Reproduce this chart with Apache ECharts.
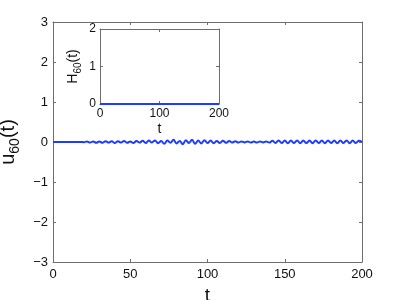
<!DOCTYPE html>
<html>
<head>
<meta charset="utf-8">
<script src="https://cdn.jsdelivr.net/npm/echarts@6/dist/echarts.min.js"></script>
<style>html,body{margin:0;padding:0;background:#fff}#c{width:399px;height:300px}</style>
</head>
<body>
<div id="c"></div>
<script>
// Main series u_60(t)
var tMain = [0,2,4,6,8,10,12,14,16,18,20,22,24,26,28,30,32,34,36,38,40,42,44,46,48,50,52,54,56,58,60,62,64,66,68,70,72,74,76,78,80,82,84,86,88,90,92,94,96,98,100,102,104,106,108,110,112,114,116,118,120,122,124,126,128,130,132,134,136,138,140,142,144,146,148,150,152,154,156,158,160,162,164,166,168,170,172,174,176,178,180,182,184,186,188,190,192,194,196,198,200];
var uMain = [0,0,0,0,0,0,0,0,0,0.003,-0.006,0.01,-0.015,0.015,-0.02,0.015,-0.02,0.02,-0.015,0.02,-0.025,0.02,-0.015,0.025,-0.02,0.015,-0.025,0.025,-0.015,0.03,-0.025,0.035,-0.015,0.04,-0.03,0.025,-0.045,0.035,-0.02,0.055,-0.035,0.025,-0.055,0.045,-0.025,0.055,-0.045,0.035,-0.035,0.045,-0.025,0.035,-0.03,0.025,-0.025,0.03,-0.02,0.025,-0.015,0.02,-0.015,0.015,-0.012,0.015,-0.015,0.012,-0.015,0.015,-0.012,0.015,-0.015,0.03,-0.025,0.04,-0.025,0.035,-0.03,0.035,-0.025,0.04,-0.03,0.035,-0.025,0.035,-0.03,0.04,-0.025,0.035,-0.03,0.04,-0.025,0.035,-0.03,0.035,-0.025,0.04,-0.03,0.035,-0.025,0.03,0];
// Inset series H_60(t)
var tInset = [0,50,100,150,200];
var hInset = [0,0,0,0,0];
// Tick values
var mainXTicks = [0,50,100,150,200];
var mainYTicks = [-3,-2,-1,0,1,2,3];
var insetXTicks = [0,100,200];
var insetYTicks = [0,1,2];

function pairs(a,b){return a.map(function(v,i){return [v,b[i]];});}
var FONT = 'Liberation Sans';
var AX = '#6e6e6e';
function fmt(v){return String(v).replace('-', '\u2212');}

var chart = echarts.init(document.getElementById('c'));
function ax(extra){
  var base = {
    type:'value', axisLine:{show:true,onZero:false,lineStyle:{color:AX,width:1}},
    axisTick:{show:true,inside:true,length:3,lineStyle:{color:AX}},
    splitLine:{show:false},
    axisLabel:{color:'#111',fontFamily:FONT,fontSize:13,formatter:fmt}
  };
  for (var k in extra){ base[k]=extra[k]; }
  return base;
}
chart.setOption({
  animation:false,
  backgroundColor:'#fff',
  grid:[
    {left:53, top:22, width:309, height:240, show:false, containLabel:false, outerBoundsMode:'none'},
    {left:100, top:29, width:119, height:75, show:true, backgroundColor:'#fff', borderWidth:0, z:5, containLabel:false, outerBoundsMode:'none'}
  ],
  xAxis:[
    ax({gridIndex:0,min:0,max:200,interval:50,position:'bottom',
        axisLabel:{color:'#111',fontFamily:FONT,fontSize:13,margin:6,formatter:fmt},
        name:'t',nameLocation:'middle',nameGap:18,nameTextStyle:{color:'#111',fontFamily:FONT,fontSize:19}}),
    ax({gridIndex:0,min:0,max:200,interval:50,position:'top',axisLabel:{show:false}}),
    ax({gridIndex:1,z:6,min:0,max:200,interval:100,position:'bottom',
        axisLabel:{color:'#111',fontFamily:FONT,fontSize:12,margin:4,formatter:fmt},
        name:'t',nameLocation:'middle',nameGap:18,nameTextStyle:{color:'#111',fontFamily:FONT,fontSize:14}}),
    ax({gridIndex:1,z:6,min:0,max:200,interval:100,position:'top',axisLabel:{show:false}})
  ],
  yAxis:[
    ax({gridIndex:0,min:-3,max:3,interval:1,position:'left',
        axisLabel:{color:'#111',fontFamily:FONT,fontSize:13,margin:5,formatter:fmt},
        name:'{a|u}{b|60}{a|(t)}',nameLocation:'middle',nameRotate:90,nameGap:19,
        nameTextStyle:{rich:{a:{color:'#111',fontFamily:FONT,fontSize:20,lineHeight:22,verticalAlign:'top'},
                             b:{color:'#111',fontFamily:FONT,fontSize:14,lineHeight:26,verticalAlign:'top',padding:[10,0,0,0]}}}}),
    ax({gridIndex:0,min:-3,max:3,interval:1,position:'right',axisLabel:{show:false}}),
    ax({gridIndex:1,z:6,min:0,max:2,interval:1,position:'left',
        axisLabel:{color:'#111',fontFamily:FONT,fontSize:12,margin:4,formatter:fmt},
        name:'{a|H}{b|60}{a|(t)}',nameLocation:'middle',nameRotate:90,nameGap:14,
        nameTextStyle:{rich:{a:{color:'#111',fontFamily:FONT,fontSize:14,lineHeight:16,verticalAlign:'top'},
                             b:{color:'#111',fontFamily:FONT,fontSize:10,lineHeight:20,verticalAlign:'top',padding:[7,0,0,0]}}}}),
    ax({gridIndex:1,z:6,min:0,max:2,interval:1,position:'right',axisLabel:{show:false}})
  ],
  series:[
    {type:'line',xAxisIndex:0,yAxisIndex:0,data:pairs(tMain,uMain),showSymbol:false,smooth:0.4,
     lineStyle:{color:'#1e3cff',width:2},z:2},
    {type:'line',xAxisIndex:2,yAxisIndex:2,data:pairs(tInset,hInset),showSymbol:false,
     lineStyle:{color:'#1e3cff',width:2},z:7}
  ]
});
</script>
</body>
</html>
